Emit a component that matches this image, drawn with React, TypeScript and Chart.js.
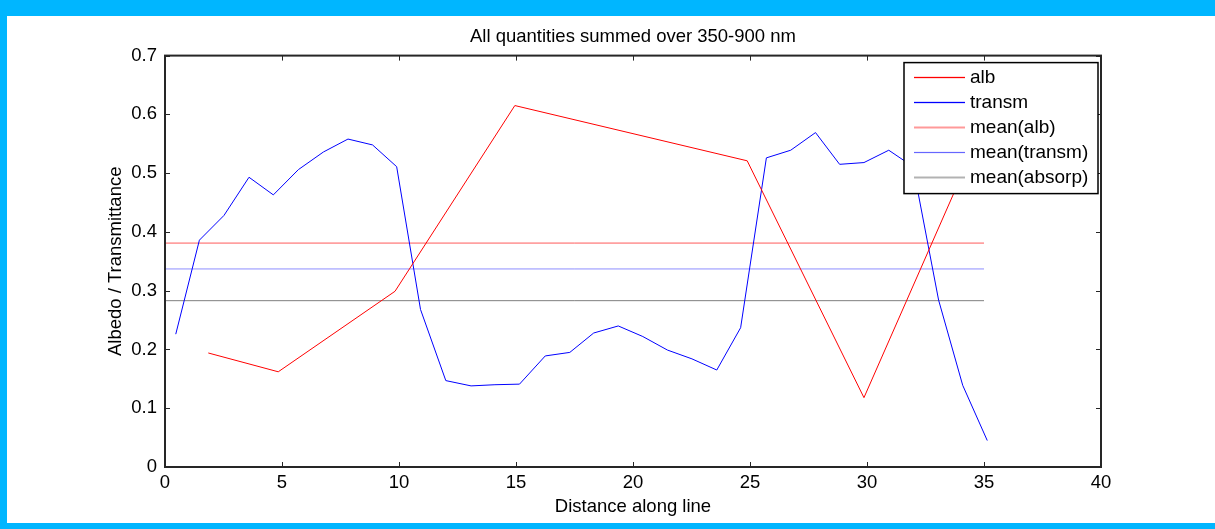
import React, { useEffect, useRef } from 'react';
import { Chart, registerables } from 'chart.js';

Chart.register(...registerables);

const TITLE = 'All quantities summed over 350-900 nm';
const X_LABEL = 'Distance along line';
const Y_LABEL = 'Albedo / Transmittance';

const albX = [1.85, 4.84, 9.83, 14.95, 24.88, 29.87, 34.86];
const albY = [0.194, 0.162, 0.299, 0.615, 0.521, 0.118, 0.57];

const transmX = [
  0.46, 1.47, 2.52, 3.59, 4.63, 5.7, 6.77, 7.82, 8.87, 9.9, 10.92, 12.0, 13.08, 14.1, 15.15, 16.25, 17.3,
  18.32, 19.37, 20.42, 21.47, 22.52, 23.58, 24.6, 25.7, 26.74, 27.8, 28.83, 29.87, 30.93, 31.97, 33.06,
  34.09, 35.14,
];
const transmY = [
  0.226, 0.386, 0.428, 0.493, 0.463, 0.506, 0.536, 0.558, 0.548, 0.511, 0.268, 0.147, 0.138, 0.14, 0.141,
  0.189, 0.195, 0.228, 0.24, 0.222, 0.199, 0.184, 0.165, 0.237, 0.526, 0.539, 0.569, 0.515, 0.518, 0.539,
  0.511, 0.284, 0.139, 0.045,
];

const meanX = [0, 35];
const meanAlb = 0.381;
const meanTransm = 0.337;
const meanAbsorp = 0.283;

const seriesLabels = ['alb', 'transm', 'mean(alb)', 'mean(transm)', 'mean(absorp)'];

const X_MIN = 0;
const X_MAX = 40;
const X_STEP = 5;
const Y_MIN = 0;
const Y_MAX = 0.7;
const Y_STEP = 0.1;

const FONT = "'Liberation Sans', Arial, Helvetica, sans-serif";

const lineColors = ['#ff0000', '#0000ff', 'rgba(255,0,0,0.65)', 'rgba(0,0,255,0.45)', 'rgba(0,0,0,0.5)'];
const legendColors = ['#ff0000', '#0000ff', 'rgba(255,0,0,0.4)', 'rgba(0,0,255,0.6)', 'rgba(0,0,0,0.3)'];
const legendWidths = [1.3, 1.3, 2, 1.2, 2];

const framePlugin = {
  id: 'matlabFrame',
  afterDatasetsDraw(chart: any) {
    const { ctx, chartArea, scales } = chart;
    const { left, right, top, bottom } = chartArea;
    ctx.save();
    ctx.strokeStyle = '#262626';
    ctx.lineWidth = 1;
    const tl = 5;
    scales.x.ticks.forEach((t: any) => {
      const px = Math.round(scales.x.getPixelForValue(t.value)) + 0.5;
      ctx.beginPath();
      ctx.moveTo(px, bottom);
      ctx.lineTo(px, bottom - tl);
      ctx.moveTo(px, top);
      ctx.lineTo(px, top + tl);
      ctx.stroke();
    });
    scales.y.ticks.forEach((t: any) => {
      const py = Math.round(scales.y.getPixelForValue(t.value)) + 0.5;
      ctx.beginPath();
      ctx.moveTo(left, py);
      ctx.lineTo(left + tl, py);
      ctx.moveTo(right, py);
      ctx.lineTo(right - tl, py);
      ctx.stroke();
    });
    ctx.lineWidth = 2;
    ctx.strokeRect(left, top, right - left, bottom - top);
    ctx.restore();
  },
};

const legendPlugin = {
  id: 'matlabLegend',
  afterDraw(chart: any) {
    const { ctx, chartArea } = chart;
    const boxW = 194;
    const boxH = 131;
    const bx = chartArea.right - 197;
    const by = chartArea.top + 7;
    ctx.save();
    ctx.fillStyle = '#ffffff';
    ctx.fillRect(bx, by, boxW, boxH);
    ctx.strokeStyle = '#000000';
    ctx.lineWidth = 1.5;
    ctx.strokeRect(bx, by, boxW, boxH);
    ctx.font = `19px ${FONT}`;
    ctx.textBaseline = 'middle';
    ctx.textAlign = 'left';
    chart.data.datasets.forEach((ds: any, i: number) => {
      const y = Math.round(by + 14 + i * 25);
      const w = legendWidths[i];
      ctx.fillStyle = legendColors[i];
      ctx.fillRect(bx + 10, y - w / 2 + 0.5, 51, w);
      ctx.fillStyle = '#000000';
      ctx.fillText(ds.label, bx + 66, y + 1);
    });
    ctx.restore();
  },
};

export default function App() {
  const canvasRef = useRef<HTMLCanvasElement | null>(null);

  useEffect(() => {
    const canvas = canvasRef.current;
    if (!canvas) return;
    const pts = (xs: number[], ys: number[]) => xs.map((x, i) => ({ x, y: ys[i] }));
    const flat = (v: number) => meanX.map((x) => ({ x, y: v }));

    const chart = new Chart(canvas, {
      type: 'line',
      data: {
        datasets: [
          { label: seriesLabels[0], data: pts(albX, albY), borderColor: lineColors[0], borderWidth: 1 },
          { label: seriesLabels[1], data: pts(transmX, transmY), borderColor: lineColors[1], borderWidth: 1 },
          { label: seriesLabels[2], data: flat(meanAlb), borderColor: lineColors[2], borderWidth: 1 },
          { label: seriesLabels[3], data: flat(meanTransm), borderColor: lineColors[3], borderWidth: 1 },
          { label: seriesLabels[4], data: flat(meanAbsorp), borderColor: lineColors[4], borderWidth: 1 },
        ],
      },
      options: {
        animation: false,
        responsive: false,
        events: [],
        elements: { point: { radius: 0 }, line: { tension: 0 } },
        layout: { padding: { left: 0, right: 114, top: 0, bottom: 0 } },
        plugins: {
          legend: { display: false },
          tooltip: { enabled: false },
          title: {
            display: true,
            text: TITLE,
            fullSize: false,
            color: '#000000',
            font: { family: FONT, size: 18.5, weight: 'normal' },
            padding: { top: 10.2, bottom: 7.2 },
          },
        },
        scales: {
          x: {
            type: 'linear',
            min: X_MIN,
            max: X_MAX,
            grid: { display: false, drawTicks: false },
            border: { display: false },
            ticks: {
              stepSize: X_STEP,
              color: '#000000',
              font: { family: FONT, size: 18.5 },
              padding: 5,
              maxRotation: 0,
            },
            title: {
              display: true,
              text: X_LABEL,
              color: '#000000',
              font: { family: FONT, size: 18.5 },
              padding: { top: 0, bottom: 5.2 },
            },
            afterFit: (scale: any) => {
              scale.height = 56;
            },
          },
          y: {
            type: 'linear',
            min: Y_MIN,
            max: Y_MAX,
            grid: { display: false, drawTicks: false },
            border: { display: false },
            ticks: {
              stepSize: Y_STEP,
              color: '#000000',
              font: { family: FONT, size: 18.5 },
              padding: 8,
            },
            title: {
              display: true,
              text: Y_LABEL,
              color: '#000000',
              font: { family: FONT, size: 18.5 },
              padding: { top: 98, bottom: 0 },
            },
            afterFit: (scale: any) => {
              scale.width = 158;
            },
          },
        },
      },
      plugins: [framePlugin, legendPlugin],
    } as any);
    return () => chart.destroy();
  }, []);

  return (
    <div
      style={{
        position: 'absolute',
        left: 0,
        top: 0,
        width: 1215,
        height: 529,
        background: '#00b6ff',
        overflow: 'hidden',
      }}
    >
      <div style={{ position: 'absolute', left: 7, top: 16, width: 1208, height: 507, background: '#ffffff' }}>
        <canvas ref={canvasRef} width={1208} height={507} style={{ display: 'block', width: 1208, height: 507 }} />
      </div>
    </div>
  );
}
